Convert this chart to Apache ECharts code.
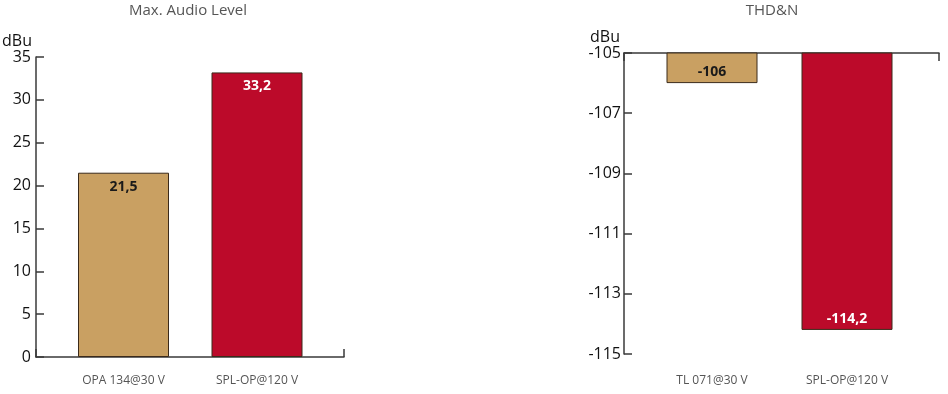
<!DOCTYPE html>
<html>
<head>
<meta charset="utf-8">
<script src="https://cdn.jsdelivr.net/npm/echarts@6/dist/echarts.min.js"></script>
<style>html,body{margin:0;padding:0;background:#fff}#c{width:948px;height:394px}</style>
</head>
<body>
<div id="c"></div>
<script>
// ---- data ----
const leftTitle = 'Max. Audio Level';
const leftCategories = ['OPA 134@30 V', 'SPL-OP@120 V'];
const leftValues = [21.5, 33.2];
const leftAxis = { min: 0, max: 35, interval: 5 };

const rightTitle = 'THD&N';
const rightCategories = ['TL 071@30 V', 'SPL-OP@120 V'];
const rightValues = [-106, -114.2];
const rightAxis = { min: -115, max: -105, interval: 2 };

const unitName = 'dBu';
const barColors = ['#C9A062', '#BC0A2A'];
const labelColors = ['#1a1a1a', '#ffffff'];

// ---- chart ----
const FONT = 'Open Sans';
const AXIS_COLOR = '#3a3a3a';
const fmt = v => String(v).replace('.', ',');

function frameX(gridIndex, position) {
  return {
    type: 'category', gridIndex, position, data: [''],
    axisLine: { show: true, lineStyle: { color: AXIS_COLOR, width: 1.5 } },
    axisTick: { show: true, inside: true, length: 8, alignWithLabel: false, lineStyle: { color: AXIS_COLOR, width: 1.5 } },
    axisLabel: { show: false }, splitLine: { show: false }
  };
}
function frameY(gridIndex, ax, gap, nameGap) {
  return {
    type: 'value', gridIndex, min: ax.min, max: ax.max, interval: ax.interval,
    name: unitName, nameLocation: 'end', nameGap,
    nameTextStyle: { fontFamily: FONT, fontSize: 16, color: '#111', align: 'right', padding: [0, 4, 0, 0] },
    axisLine: { show: true, lineStyle: { color: AXIS_COLOR, width: 1.5 } },
    axisTick: { show: true, inside: true, length: 8, lineStyle: { color: AXIS_COLOR, width: 1.5 } },
    axisLabel: { fontFamily: FONT, fontSize: 16, color: '#111', margin: gap },
    splitLine: { show: false }
  };
}
function barX(gridIndex, cats, margin) {
  return {
    type: 'category', gridIndex, data: cats, position: 'bottom',
    axisLine: { show: false }, axisTick: { show: false },
    axisLabel: { fontFamily: FONT, fontSize: 12, color: '#555', margin }
  };
}
function barY(gridIndex, ax) {
  return { type: 'value', gridIndex, min: ax.min, max: ax.max, interval: ax.interval, show: false, splitLine: { show: false } };
}
function barSeries(xi, yi, vals, pos, dist) {
  return {
    type: 'bar', xAxisIndex: xi, yAxisIndex: yi, barWidth: 91, clip: true,
    data: vals.map((v, i) => ({
      value: v,
      itemStyle: { color: barColors[i], borderColor: '#3b2a1a', borderWidth: 1 },
      label: { color: labelColors[i] }
    })),
    label: {
      show: true, position: pos, distance: dist,
      fontFamily: FONT, fontSize: 14, fontWeight: 'bold',
      formatter: p => fmt(p.value)
    }
  };
}

const chart = echarts.init(document.getElementById('c'), null, { renderer: 'canvas' });
chart.setOption({
  animation: false,
  backgroundColor: '#fff',
  title: [
    { text: leftTitle, left: 183, top: -2, textAlign: 'center', textStyle: { fontFamily: FONT, fontSize: 15, fontWeight: 'normal', color: '#555' } },
    { text: rightTitle, left: 767, top: -2, textAlign: 'center', textStyle: { fontFamily: FONT, fontSize: 15, fontWeight: 'normal', color: '#555' } }
  ],
  grid: [
    { left: 36, top: 57, width: 308, height: 300 },
    { left: 56.75, top: 57, width: 267, height: 300 },
    { left: 624, top: 53, width: 315, height: 301 },
    { left: 644.5, top: 53, width: 270, height: 301 }
  ],
  xAxis: [
    frameX(0, 'bottom'),
    barX(1, leftCategories, 18),
    frameX(2, 'top'),
    barX(3, rightCategories, 21)
  ],
  yAxis: [
    frameY(0, leftAxis, 5, 5),
    barY(1, leftAxis),
    frameY(2, rightAxis, 3, 4),
    barY(3, rightAxis)
  ],
  series: [
    barSeries(1, 1, leftValues, 'insideTop', 7),
    barSeries(3, 3, rightValues, 'insideBottom', 4)
  ]
});
</script>
</body>
</html>
